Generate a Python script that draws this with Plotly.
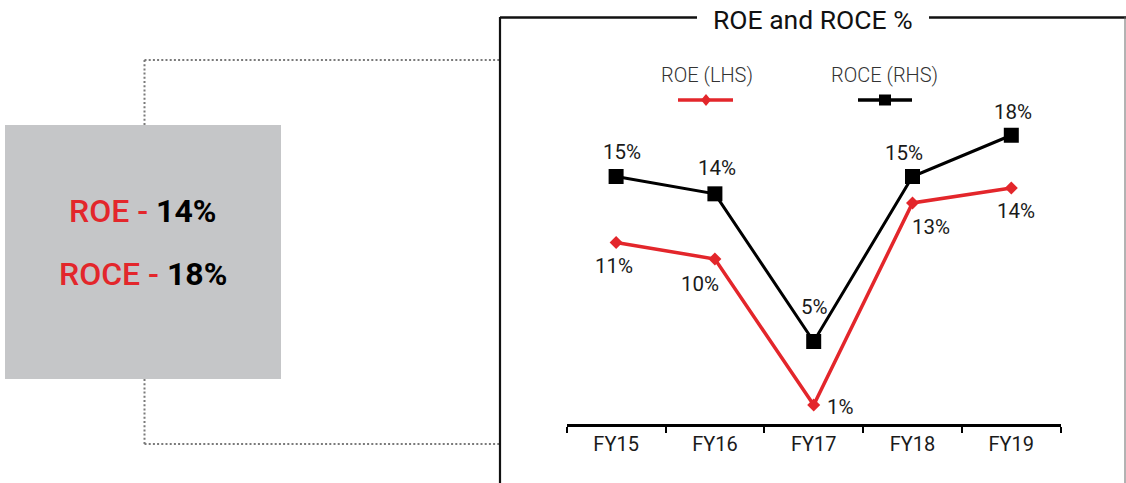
import plotly.graph_objects as go

# ---- data ----
years = ["FY15", "FY16", "FY17", "FY18", "FY19"]
roe = [11.0, 10.0, 1.15, 13.4, 14.3]
roce = [15.0, 13.95, 5.0, 15.0, 17.5]
summary_roe = "14%"
summary_roce = "18%"

# label offsets in px (dx, dy screen; dy positive = down)
roe_off = [(-2, 23), (-15, 25), (27, 2), (18, 24), (5, 23)]
roce_off = [(6, -25), (2, -26), (1, -35), (-9, -24), (2, -23)]

RED = "#e3262b"
BLACK = "#000000"
W, H = 1126, 483


def px(x):
    return x / W


def py(y):
    return 1 - y / H


fig = go.Figure()
fig.add_trace(go.Scatter(
    x=years, y=roe, mode="lines+markers", name="ROE (LHS)",
    line=dict(color=RED, width=3.5),
    marker=dict(symbol="diamond", size=10, color=RED),
    cliponaxis=False, showlegend=False, hoverinfo="skip"))
fig.add_trace(go.Scatter(
    x=years, y=roce, mode="lines+markers", name="ROCE (RHS)",
    line=dict(color=BLACK, width=3),
    marker=dict(symbol="square", size=15, color=BLACK),
    cliponaxis=False, showlegend=False, hoverinfo="skip"))

annotations = []
lab_font = dict(family="Roboto", size=20.5, color="#1a1a1a", weight=400)
for i, yr in enumerate(years):
    dx, dy = roe_off[i]
    annotations.append(dict(x=yr, y=roe[i], xref="x", yref="y", text=f"{roe[i]:.0f}%",
                            showarrow=False, xshift=dx, yshift=-dy, font=lab_font,
                            xanchor="center", yanchor="middle"))
    dx, dy = roce_off[i]
    annotations.append(dict(x=yr, y=roce[i], xref="x", yref="y", text=f"{roce[i]:.0f}%",
                            showarrow=False, xshift=dx, yshift=-dy, font=lab_font,
                            xanchor="center", yanchor="middle"))

# title
annotations.append(dict(x=px(813), y=py(19), xref="paper", yref="paper", text="ROE and ROCE %",
                        showarrow=False, xanchor="center", yanchor="middle",
                        font=dict(family="Roboto", size=26.5, color="#111111")))
# legend texts
leg_font = dict(family="Roboto", size=20, color="#333333", weight=300)
annotations.append(dict(x=px(707), y=py(75), xref="paper", yref="paper", text="ROE (LHS)",
                        showarrow=False, xanchor="center", yanchor="middle", font=leg_font))
annotations.append(dict(x=px(885), y=py(75), xref="paper", yref="paper", text="ROCE (RHS)",
                        showarrow=False, xanchor="center", yanchor="middle", font=leg_font))
# summary box texts
box_font = dict(family="Roboto", size=32, color=BLACK)
annotations.append(dict(x=px(142.5), y=py(211), xref="paper", yref="paper",
                        text=f"<span style='color:{RED};font-weight:500'>ROE - </span><b>{summary_roe}</b>",
                        showarrow=False, xanchor="center", yanchor="middle", font=box_font))
annotations.append(dict(x=px(142.5), y=py(273.5), xref="paper", yref="paper",
                        text=f"<span style='color:{RED};font-weight:500'>ROCE - </span><b>{summary_roce}</b>",
                        showarrow=False, xanchor="center", yanchor="middle", font=box_font))

shapes = []


def line(x0, y0, x1, y1, color, width, dash="solid"):
    shapes.append(dict(type="line", xref="paper", yref="paper",
                       x0=px(x0), y0=py(y0), x1=px(x1), y1=py(y1),
                       line=dict(color=color, width=width, dash=dash), layer="below"))


# gray summary box
shapes.append(dict(type="rect", xref="paper", yref="paper", x0=px(5), y0=py(125), x1=px(281), y1=py(379),
                   fillcolor="#c5c6c8", line=dict(width=0), layer="below"))
# dotted connectors
dot = "2px,2.2px"
DOTC = "#7a7a7a"
line(144.5, 60, 500, 60, DOTC, 2, dot)
line(144.5, 60, 144.5, 125, DOTC, 2, dot)
line(144.5, 379, 144.5, 444, DOTC, 2, dot)
line(144.5, 444, 500, 444, DOTC, 2, dot)
# frame
line(500, 17, 500, 483, "#111111", 2.2)
line(500, 17.5, 697, 17.5, "#111111", 2.5)
line(929, 17.5, 1126, 17.5, "#111111", 2.5)
line(1125, 17, 1125, 483, "#666666", 1)
# legend samples
line(678, 100, 733, 100, RED, 3.5)
line(858, 100, 912, 100, BLACK, 3.5)
cx, cy = 706, 100
shapes.append(dict(type="path", xref="paper", yref="paper",
                   path=f"M {px(cx-5)} {py(cy)} L {px(cx)} {py(cy-6)} L {px(cx+5)} {py(cy)} L {px(cx)} {py(cy+6)} Z",
                   fillcolor=RED, line=dict(width=0)))
shapes.append(dict(type="rect", xref="paper", yref="paper",
                   x0=px(879), y0=py(94.5), x1=px(891), y1=py(105.5),
                   fillcolor=BLACK, line=dict(width=0)))

fig.update_layout(
    width=W, height=H, margin=dict(l=0, r=0, t=0, b=0),
    paper_bgcolor="white", plot_bgcolor="rgba(0,0,0,0)",
    shapes=shapes, annotations=annotations, showlegend=False,
    xaxis=dict(domain=[px(566.7), px(1060.7)], type="category", range=[-0.5, 4.5],
               showline=True, linecolor=BLACK, linewidth=2.5, showgrid=False, zeroline=False,
               ticks="outside", tickson="boundaries", ticklen=6, tickwidth=2, tickcolor=BLACK,
               tickfont=dict(family="Roboto", size=20, color="#1a1a1a"), fixedrange=True),
    yaxis=dict(domain=[py(424), py(94)], range=[0, 20], visible=False, fixedrange=True),
)

fig.write_html("out.html")
